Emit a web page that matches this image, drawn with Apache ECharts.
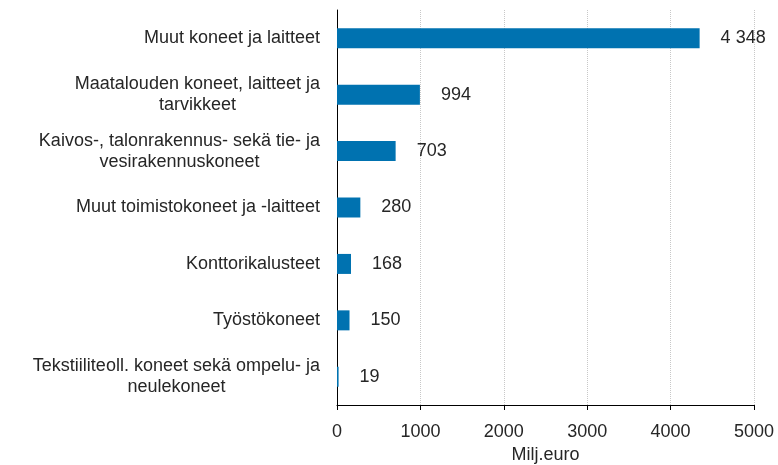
<!DOCTYPE html>
<html>
<head>
<meta charset="utf-8">
<script src="https://cdn.jsdelivr.net/npm/echarts@6/dist/echarts.min.js"></script>
<style>
  html, body { margin: 0; padding: 0; background: #fff; }
  #chart { width: 778px; height: 465px; }
</style>
</head>
<body>
<div id="chart"></div>
<script>
// categories top to bottom
const categories = [
  'Muut koneet ja laitteet',
  'Maatalouden koneet, laitteet ja\ntarvikkeet',
  'Kaivos-, talonrakennus- sekä tie- ja\nvesirakennuskoneet',
  'Muut toimistokoneet ja -laitteet',
  'Konttorikalusteet',
  'Työstökoneet',
  'Tekstiiliteoll. koneet sekä ompelu- ja\nneulekoneet'
]
const values = [4348, 994, 703, 280, 168, 150, 19]
const xTicks = [0, 1000, 2000, 3000, 4000, 5000]
const xName = 'Milj.euro'

const FONT = 'Liberation Sans'
const SIZE = 18
const TXT = '#262626'

// thousands with a space, like "4 348"
const fmt = v => String(v).replace(/\B(?=(\d{3})+(?!\d))/g, ' ')

const chart = echarts.init(document.getElementById('chart'), null, { renderer: 'canvas' })

chart.setOption({
  animation: false,
  textStyle: { fontFamily: FONT },
  grid: { left: 337, right: 24, top: 10, bottom: 60, containLabel: false, outerBoundsMode: 'none' },
  xAxis: {
    type: 'value',
    min: xTicks[0], max: xTicks[xTicks.length - 1], interval: 1000,
    name: xName, nameLocation: 'middle', nameGap: 41,
    nameTextStyle: { color: TXT, fontSize: SIZE, fontFamily: FONT },
    axisLine: { show: true, lineStyle: { color: '#000', width: 1 } },
    axisTick: { show: true, length: 5, lineStyle: { color: '#000' } },
    axisLabel: { color: TXT, fontSize: SIZE, margin: 18, fontFamily: FONT, formatter: v => String(v) },
    splitLine: { show: true, lineStyle: { color: '#c8c8c8', type: 'dotted', width: 1 } }
  },
  yAxis: {
    type: 'category', inverse: true, data: categories,
    axisLine: { show: true, lineStyle: { color: '#000', width: 1 } },
    axisTick: { show: false },
    axisLabel: {
      margin: 17, color: TXT, fontSize: SIZE, fontFamily: FONT,
      // centre the wrapped lines under each other
      formatter: v => v.split('\n').map(l => '{c|' + l + '}').join('\n'),
      rich: { c: { align: 'center', color: TXT, fontSize: SIZE, lineHeight: 21, fontFamily: FONT } }
    }
  },
  series: [{
    type: 'bar', data: values, barWidth: 20,
    itemStyle: { color: '#0072b0' },
    label: {
      show: true, position: 'right', distance: 21,
      color: TXT, fontSize: SIZE, fontFamily: FONT,
      formatter: p => fmt(p.value)
    }
  }]
})
</script>
</body>
</html>
